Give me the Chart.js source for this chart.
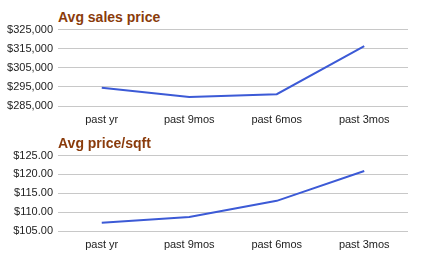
<!DOCTYPE html>
<html>
<head>
<meta charset="utf-8">
<script src="https://cdn.jsdelivr.net/npm/chart.js@4"></script>
<style>
  body { margin: 0; background: #fff; width: 423px; height: 261px; position: relative; overflow: hidden; font-family: "Liberation Sans", Arial, sans-serif; }
  .title { position: absolute; left: 58px; font-weight: bold; font-size: 14px; color: #8a3b0b; line-height: 16px; }
  .box { position: absolute; left: 0; width: 423px; }
</style>
</head>
<body>
<div class="title" style="top: 9px;">Avg sales price</div>
<div class="box" style="top: 18px; height: 118px;"><canvas id="priceChart"></canvas></div>
<div class="title" style="top: 135px;">Avg price/sqft</div>
<div class="box" style="top: 144px; height: 117px;"><canvas id="sqftChart"></canvas></div>
<script>
const periods = ['past yr', 'past 9mos', 'past 6mos', 'past 3mos'];
const avgPrice = [294600, 289700, 291200, 316400];
const avgSqft = [107.2, 108.7, 113.0, 120.9];
const priceTicks = [285000, 325000, 10000];  // min, max, step
const sqftTicks = [105, 125, 5];

const money0 = v => '$' + v.toLocaleString('en-US');
const money2 = v => '$' + v.toFixed(2);

function makeChart(id, values, ticks, fmt) {
    const ctx = document.getElementById(id).getContext('2d');
    return new Chart(ctx, {
        type: 'line',
        data: {
            labels: periods,
            datasets: [{
                data: values,
                borderColor: '#3c5ad6',
                borderWidth: 2,
                pointRadius: 0,
                tension: 0,
                fill: false
            }]
        },
        options: {
            responsive: true,
            maintainAspectRatio: false,
            animation: false,
            layout: { padding: { top: 6, right: 15, bottom: 0, left: 0 } },
            plugins: { legend: { display: false }, tooltip: { enabled: false } },
            scales: {
                x: {
                    offset: true,
                    grid: { display: false, drawTicks: false },
                    border: { display: false },
                    ticks: { color: '#222', font: { family: 'Liberation Sans', size: 11 }, padding: 7, maxRotation: 0 },
                    afterFit: s => { s.height = 30; }
                },
                y: {
                    min: ticks[0], max: ticks[1],
                    grid: { color: '#c8c8c8', drawTicks: false },
                    border: { display: false },
                    ticks: { stepSize: ticks[2], color: '#222', font: { family: 'Liberation Sans', size: 11 }, padding: 5, callback: fmt },
                    afterFit: s => { s.width = 58; }
                }
            }
        }
    });
}

makeChart('priceChart', avgPrice, priceTicks, money0);
makeChart('sqftChart', avgSqft, sqftTicks, money2);
</script>
</body>
</html>
